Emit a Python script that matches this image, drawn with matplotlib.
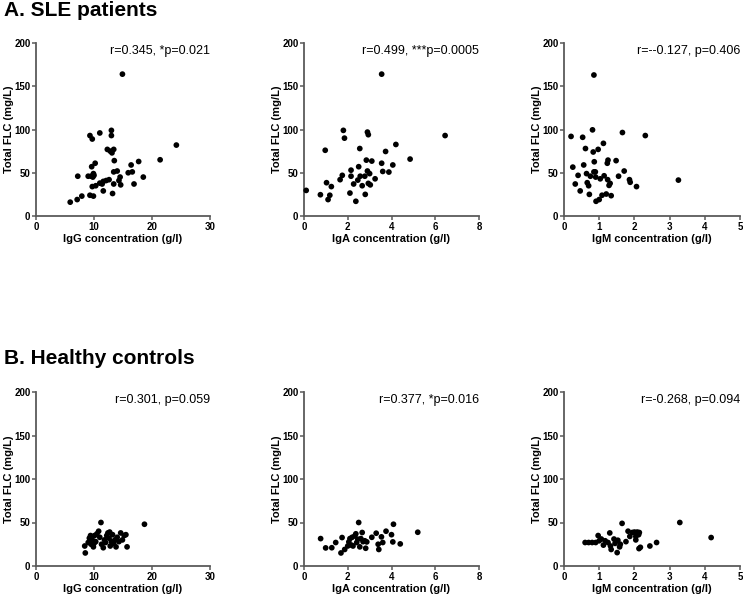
import matplotlib
matplotlib.use("Agg")
import matplotlib.pyplot as plt

plt.rcParams['font.family'] = ['Liberation Sans', 'DejaVu Sans']

# ---------------- data ----------------
sle_igg = [14.9, 24.2, 21.4, 17.7, 16.4, 16.6, 15.9, 18.5, 16.9,
           13.0, 13.0, 11.0, 9.3, 9.7,
           12.3, 12.8, 13.4, 13.1, 13.5,
           9.6, 10.2,
           13.4, 14.0, 14.5, 14.3, 14.6, 13.4,
           9.0, 9.5, 9.9, 10.0, 9.8,
           9.7, 10.3, 11.0, 11.6, 12.1, 12.6,
           5.9, 7.1, 7.9, 9.3, 9.9, 7.2,
           11.6, 13.2, 11.4]
sle_igg_flc = [164, 82, 65, 63, 59, 51, 50, 45, 37,
               99, 93, 96, 93, 89,
               77, 75, 77, 73, 64,
               57, 61,
               51, 52, 45, 41, 36, 37,
               46, 46, 49, 47, 45,
               34, 35, 38, 40, 41, 42,
               16, 19, 23, 24, 23, 46,
               29, 26, 37]

sle_iga = [0.1, 0.75, 0.97, 1.03, 1.1, 1.18, 1.25, 1.65, 1.75, 1.8, 1.85,
           2.1, 2.15, 2.15, 2.27, 2.37, 2.46, 2.55, 2.5, 2.57, 2.66, 2.78,
           2.8, 2.85, 2.9, 2.94, 2.9, 2.94, 3.0, 3.03, 3.1, 3.25, 3.55,
           3.55, 3.6, 3.73, 3.88, 4.06, 4.2, 4.85, 6.45]
sle_iga_flc = [29.6, 24.6, 76, 38.5, 19, 24, 34, 42, 47, 99, 90,
               26.5, 53, 46, 37, 17, 41.5, 78, 57, 46, 35, 46,
               25, 64.6, 97, 94, 52, 37.7, 49, 36, 63.5, 43, 164,
               61, 51.5, 74.6, 50.8, 59, 82.7, 65.8, 93]

sle_igm = [0.2, 0.25, 0.32, 0.4, 0.46, 0.53, 0.56, 0.61, 0.64, 0.66, 0.7,
           0.72, 0.75, 0.81, 0.83, 0.85, 0.86, 0.85, 0.89, 0.9, 0.91, 0.97,
           1.0, 1.03, 1.08, 1.12, 1.14, 1.2, 1.23, 1.24, 1.25, 1.28, 1.31,
           1.34, 1.48, 1.55, 1.66, 1.71, 1.86, 1.88, 2.06, 2.31, 3.25]
sle_igm_flc = [92, 56.5, 37, 47, 29, 91, 59, 78, 49, 38.5, 35,
               25, 46, 99.6, 74, 163, 62.7, 51, 51, 45, 17, 77,
               19, 43, 24, 84, 46.5, 25.4, 61, 42, 64.6, 35.4, 37.7,
               23.5, 64, 46, 96.5, 52, 42, 39, 34, 93, 41.5]

hc_igg = [8.4, 8.5, 9.0, 9.2, 9.5, 9.7, 9.9, 10.1, 10.3, 10.5, 10.8, 11.0,
          11.2, 11.3, 11.6, 11.8, 12.0, 12.2, 12.4, 12.6, 12.8, 13.0, 13.2,
          13.4, 13.6, 13.8, 14.0, 14.3, 14.6, 14.9, 15.2, 15.5, 15.7, 18.7,
          10.0, 9.4, 12.7]
hc_igg_flc = [23, 15, 27, 32, 25, 30, 22, 35, 28, 37, 40, 33,
              50, 25, 21, 30, 27, 35, 38, 32, 23, 28, 36,
              26, 30, 22, 33, 28, 38, 30, 35, 36, 22, 48,
              26, 35, 39]

hc_iga = [0.76, 0.99, 1.27, 1.45, 1.69, 1.74, 1.86, 2.05, 2.1, 2.17, 2.24,
          2.32, 2.37, 2.41, 2.46, 2.5, 2.55, 2.6, 2.66, 2.7, 2.78, 2.82,
          2.87, 3.1, 3.3, 3.39, 3.42, 3.54, 3.6, 3.75, 4.0, 4.06, 4.09,
          4.4, 5.2, 2.2, 2.0]
hc_iga_flc = [31.5, 20.8, 21, 27, 15, 32.7, 19, 27.7, 31.5, 24, 23,
              34.6, 37, 27, 30.8, 50, 22, 31.5, 38.5, 28, 29, 20.4,
              27.7, 33, 37.7, 25, 19, 33.5, 27, 40, 36, 27.7, 48,
              25.4, 38.8, 33, 23]

hc_igm = [0.6, 0.7, 0.8, 0.9, 0.97, 1.0, 1.06, 1.12, 1.17, 1.25, 1.3, 1.32,
          1.34, 1.42, 1.45, 1.51, 1.53, 1.58, 1.6, 1.65, 1.76, 1.82, 1.87,
          1.94, 2.0, 2.04, 2.08, 2.12, 2.13, 2.17, 2.14, 2.44, 2.63, 3.29,
          4.18, 2.04]
hc_igm_flc = [27, 27, 27, 27, 35, 29, 31, 24, 29, 27, 38, 23,
              19, 31, 26, 15.4, 29.6, 22, 25, 49, 28, 40, 34,
              38.5, 39, 34, 39, 36, 20, 21.5, 38.5, 23, 27, 50,
              32.7, 30]

xlabels = ["IgG concentration (g/l)", "IgA concentration (g/l)",
           "IgM concentration (g/l)"]
ylabel = "Total FLC (mg/L)"
xmax = [30, 8, 5]
xticks = [[0, 10, 20, 30], [0, 2, 4, 6, 8], [0, 1, 2, 3, 4, 5]]
yticks = [0, 50, 100, 150, 200]
stats_sle = ["r=0.345, *p=0.021", "r=0.499, ***p=0.0005", "r=--0.127, p=0.406"]
stats_hc = ["r=0.301, p=0.059", "r=0.377, *p=0.016", "r=-0.268, p=0.094"]
titles = ["A. SLE patients", "B. Healthy controls"]

rows = [
    [(sle_igg, sle_igg_flc), (sle_iga, sle_iga_flc), (sle_igm, sle_igm_flc)],
    [(hc_igg, hc_igg_flc), (hc_iga, hc_iga_flc), (hc_igm, hc_igm_flc)],
]
stats = [stats_sle, stats_hc]

# ---------------- layout ----------------
W, H = 743, 600
fig = plt.figure(figsize=(W / 100, H / 100), dpi=100)
xpix = [(36, 210), (304, 479), (564, 740)]
ypix = [(43, 216), (392, 566)]
title_y = [11, 358]
spine_col = "#5a5a5a"

for r in range(2):
    fig.text(4 / W, 1 - title_y[r] / H, titles[r], fontsize=15, fontweight="bold",
             ha="left", va="center")
    for c in range(3):
        x0, x1 = xpix[c]
        yt, yb = ypix[r]
        ax = fig.add_axes([x0 / W, 1 - yb / H, (x1 - x0) / W, (yb - yt) / H])
        xs, ys = rows[r][c]
        ax.scatter(xs, ys, s=17, color="black", edgecolors="none", clip_on=False, zorder=3)
        ax.set_xlim(0, xmax[c])
        ax.set_ylim(0, 200)
        ax.set_xticks(xticks[c])
        ax.set_yticks(yticks)
        for s in ["top", "right"]:
            ax.spines[s].set_visible(False)
        for s in ["left", "bottom"]:
            ax.spines[s].set_color(spine_col)
            ax.spines[s].set_linewidth(1.3)
        ax.tick_params(direction="out", length=3, width=1.1, color=spine_col,
                       labelsize=7, pad=1)
        for lab in ax.get_xticklabels() + ax.get_yticklabels():
            lab.set_fontweight("bold")
        ax.set_xlabel(xlabels[c], fontsize=8, fontweight="bold", labelpad=1.5)
        ax.set_ylabel(ylabel, fontsize=8, fontweight="bold", va="center")
        ax.yaxis.set_label_coords(-27 / (x1 - x0), 0.5)
        ax.text(1.0, 0.955, stats[r][c], transform=ax.transAxes, fontsize=9,
                ha="right", va="center")

fig.savefig("out.png", dpi=100)
